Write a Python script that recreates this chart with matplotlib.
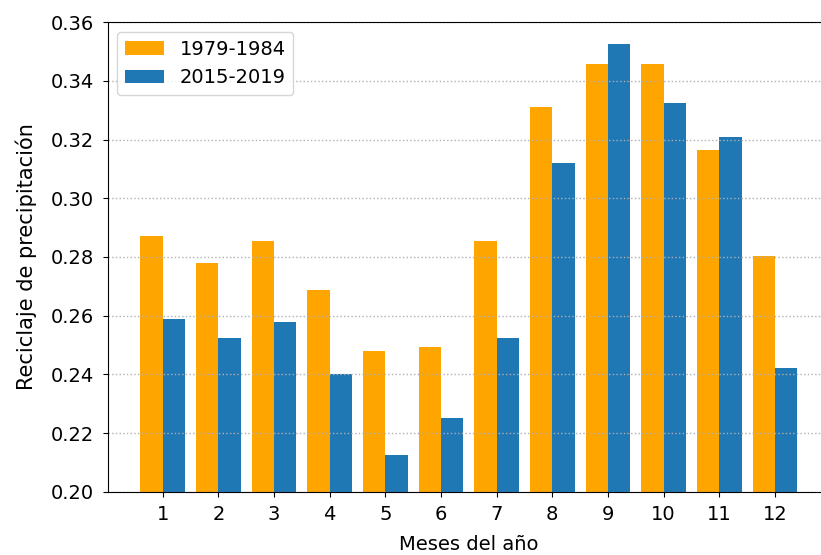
import numpy as np
import matplotlib
matplotlib.use("Agg")
import matplotlib.pyplot as plt

# Reciclaje de precipitación mensual, dos periodos
meses = np.arange(1, 13)
periodo_1 = "1979-1984"
periodo_2 = "2015-2019"

rec_1979 = [0.287, 0.278, 0.2855, 0.2686, 0.248, 0.2494,
            0.2855, 0.3312, 0.3459, 0.3459, 0.3165, 0.2803]
rec_2015 = [0.259, 0.2525, 0.258, 0.240, 0.2126, 0.2252,
            0.2525, 0.3121, 0.3526, 0.3326, 0.321, 0.242]

plt.rcParams['font.size'] = 14

fig = plt.figure(figsize=(8.21, 5.55), dpi=100)
ax = fig.add_subplot(111)
fig.subplots_adjust(left=0.131, right=1.011, top=0.960, bottom=0.114)

ancho = 0.4
ax.bar(meses, rec_1979, width=-ancho, align='edge', color='orange', label=periodo_1)
ax.bar(meses, rec_2015, width=ancho, align='edge', color='#1f77b4', label=periodo_2)

ax.set_ylim(0.20, 0.36)
ax.set_yticks(np.arange(0.20, 0.361, 0.02))
ax.set_xticks(meses)
ax.tick_params(axis='x', pad=6)
ax.tick_params(axis='y', pad=6)
ax.spines['right'].set_visible(False)

ax.yaxis.grid(True, linestyle=':', color='#b0b0b0', linewidth=1)

ax.set_xlabel('Meses del año', labelpad=8)
ax.set_ylabel('Reciclaje de precipitación', fontsize=15, labelpad=10)

ax.legend(loc='upper left')

fig.savefig('out.png', dpi=100)
